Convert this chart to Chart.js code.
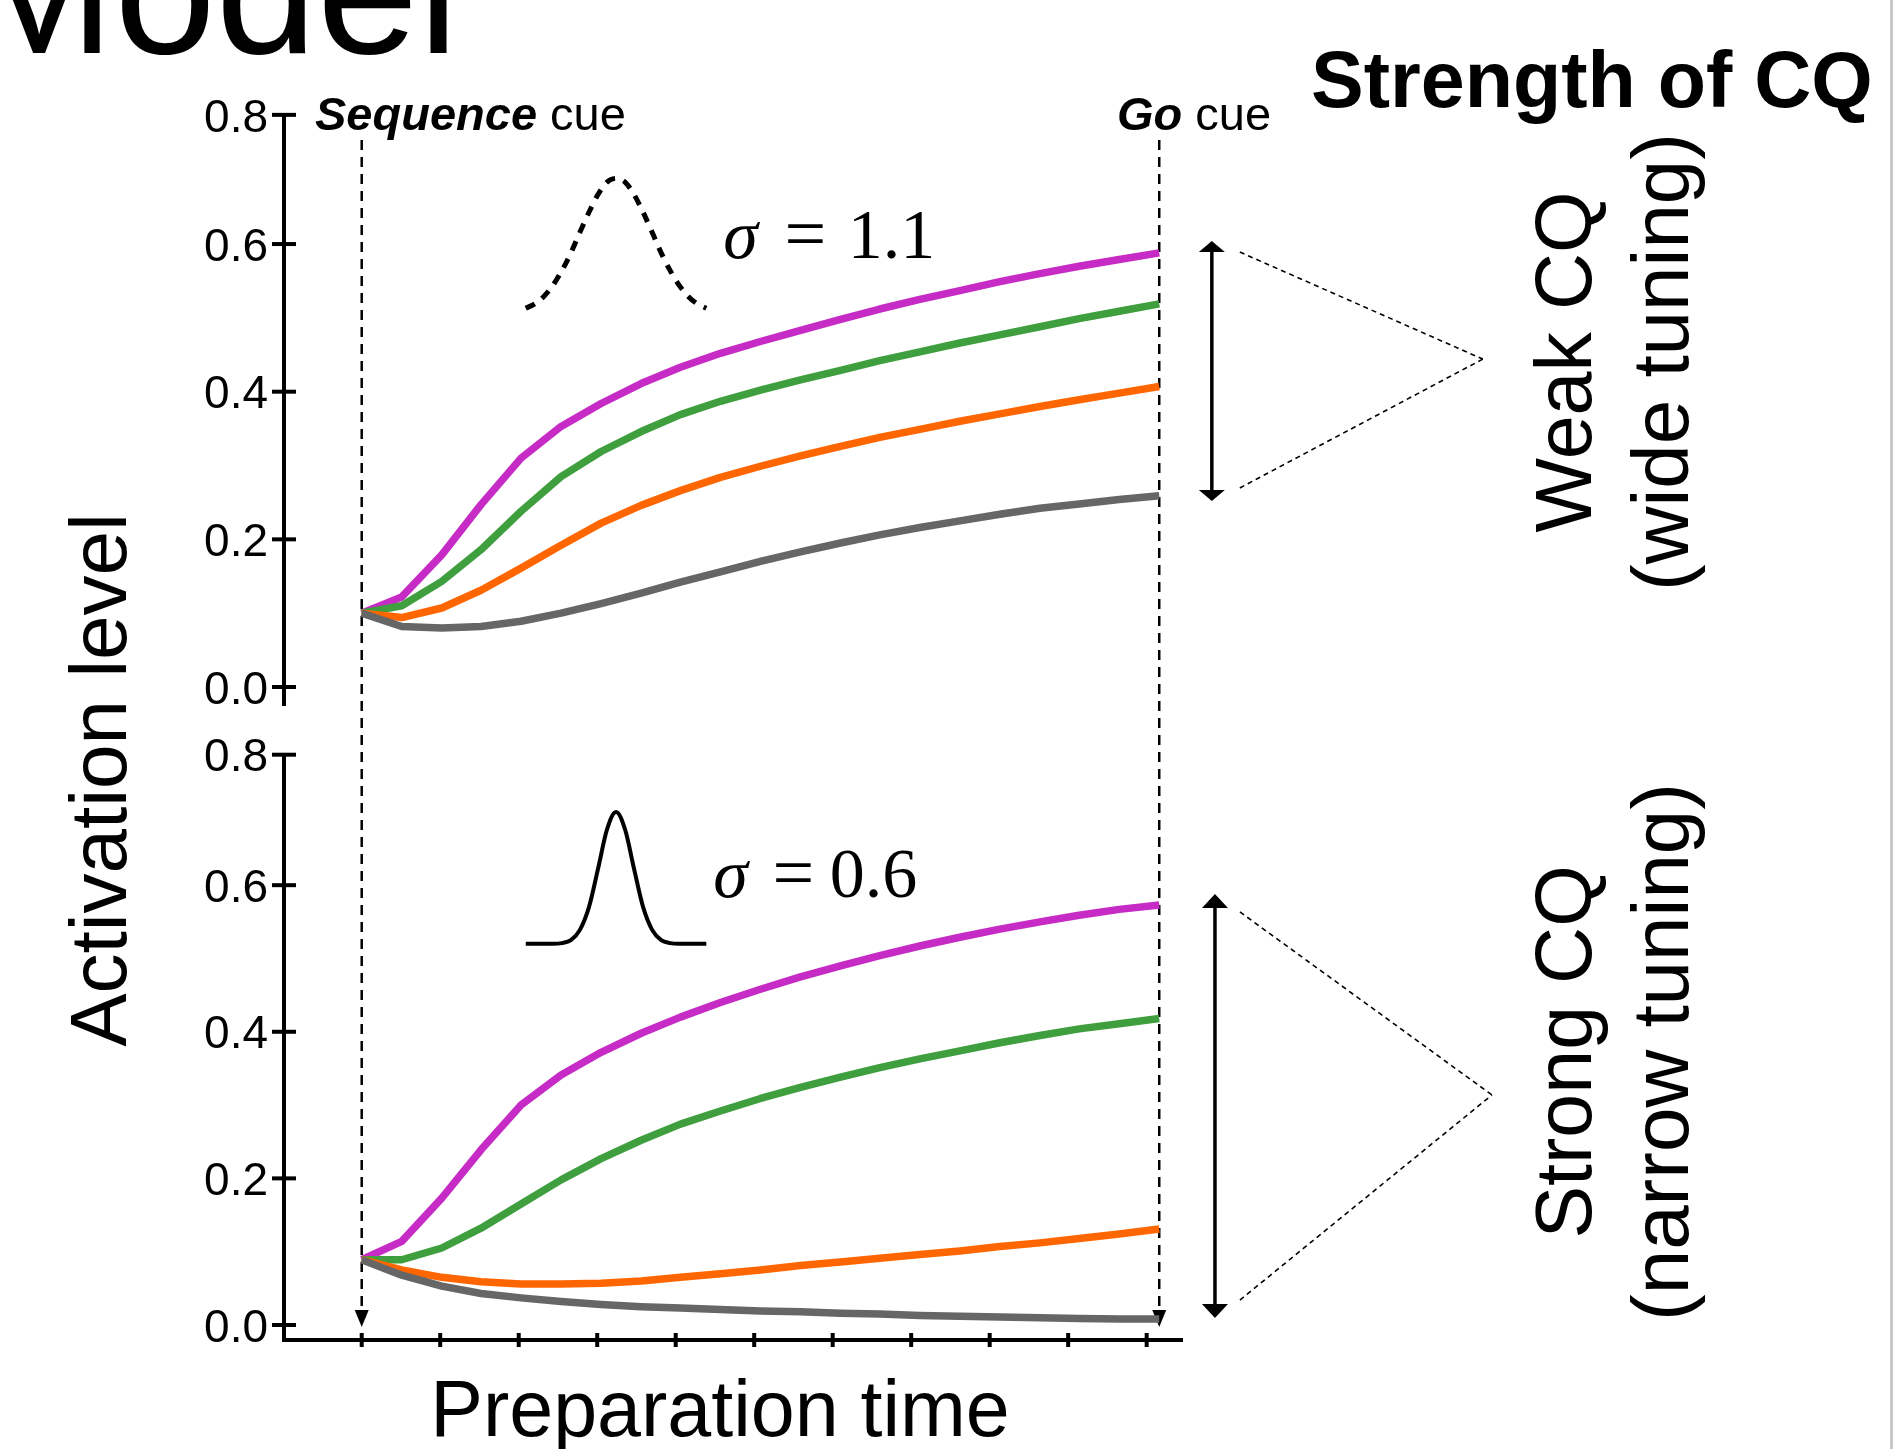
<!DOCTYPE html>
<html>
<head>
<meta charset="utf-8">
<script src="https://cdn.jsdelivr.net/npm/chart.js@4.4.1/dist/chart.umd.min.js"></script>
<style>
  html, body { margin: 0; padding: 0; background: #ffffff; }
  #wrap { position: relative; width: 1896px; height: 1449px; overflow: hidden; background: #ffffff; }
  #wrap canvas { position: absolute; left: 0; top: 0; }
</style>
</head>
<body>
<div id="wrap">
  <canvas id="bottomPanel" width="1896" height="1449"></canvas>
  <canvas id="topPanel" width="1896" height="1449"></canvas>
</div>
<script>
// ---------------- data ----------------
const prepTime = [0, 0.51, 1.02, 1.52, 2.03, 2.54, 3.05, 3.56, 4.06, 4.57, 5.08,
                  5.59, 6.10, 6.60, 7.11, 7.62, 8.13, 8.64, 9.14, 9.65, 10.16];

// Weak CQ (wide tuning, sigma = 1.1)
const weakMagenta = [0.100,0.122,0.179,0.247,0.310,0.353,0.384,0.411,0.433,0.452,0.468,0.483,0.498,0.512,0.525,0.537,0.549,0.560,0.570,0.579,0.588];
const weakGreen   = [0.100,0.110,0.143,0.186,0.238,0.285,0.319,0.346,0.369,0.387,0.402,0.416,0.429,0.442,0.454,0.466,0.477,0.488,0.499,0.509,0.519];
const weakOrange  = [0.100,0.094,0.107,0.131,0.161,0.192,0.222,0.246,0.266,0.284,0.299,0.313,0.326,0.338,0.349,0.360,0.370,0.380,0.389,0.398,0.407];
const weakGray    = [0.100,0.082,0.080,0.082,0.089,0.100,0.113,0.127,0.142,0.156,0.170,0.183,0.195,0.206,0.216,0.225,0.234,0.242,0.248,0.254,0.259];

// Strong CQ (narrow tuning, sigma = 0.6)
const strongMagenta = [0.089,0.114,0.173,0.239,0.300,0.341,0.372,0.398,0.420,0.440,0.458,0.475,0.490,0.504,0.517,0.529,0.540,0.550,0.559,0.567,0.573];
const strongGreen   = [0.089,0.089,0.105,0.132,0.165,0.198,0.227,0.252,0.274,0.292,0.309,0.324,0.338,0.351,0.363,0.374,0.385,0.395,0.404,0.411,0.418];
const strongOrange  = [0.089,0.075,0.065,0.059,0.056,0.056,0.057,0.060,0.065,0.070,0.075,0.081,0.086,0.091,0.096,0.101,0.107,0.112,0.118,0.124,0.131];
const strongGray    = [0.089,0.068,0.053,0.043,0.037,0.032,0.028,0.025,0.023,0.021,0.019,0.018,0.016,0.015,0.013,0.012,0.011,0.010,0.009,0.008,0.008];

// tuning-curve icons
const gaussX      = [2.09,2.205,2.32,2.435,2.55,2.665,2.78,2.895,3.01,3.125,3.24,3.355,3.47,3.585,3.70,3.815,3.93,4.045,4.16,4.275,4.39];
const wideGauss   = [0.513,0.519,0.529,0.544,0.564,0.588,0.616,0.643,0.667,0.684,0.689,0.684,0.667,0.643,0.616,0.588,0.564,0.544,0.529,0.519,0.513];
const narrowGauss = [0.520,0.520,0.520,0.520,0.521,0.525,0.539,0.570,0.622,0.676,0.700,0.676,0.622,0.570,0.539,0.525,0.521,0.520,0.520,0.520,0.520];

// ticks
const xTickValues = [0,1,2,3,4,5,6,7,8,9,10];
const yTickLabels = ['0.0','0.2','0.4','0.6','0.8'];
const yTickValuesTop = [0, 0.2, 0.4, 0.6, 0.775];
const yTickValuesBottom = [0, 0.2, 0.4, 0.6, 0.778];

const sequenceCueTime = 0;
const goCueTime = 10.16;

// ---------------- styles ----------------
const SANS = "'Liberation Sans', Arial, Helvetica, sans-serif";
const SERIF = "'Liberation Serif', 'Times New Roman', serif";
const COLORS = { magenta: '#C62BC6', green: '#3F9F3F', orange: '#FF6600', gray: '#666666' };

function pts(xs, ys) { return xs.map((x, i) => ({ x: x, y: ys[i] })); }

function curve(data, color) {
  return { data: pts(prepTime, data), borderColor: color, borderWidth: 7.5, pointRadius: 0,
           tension: 0, borderJoinStyle: 'round', fill: false, clip: false };
}

function yScale(min, max, tickVals) {
  return {
    type: 'linear', position: 'left', min: min, max: max,
    afterFit: s => { s.width = 120; },
    afterBuildTicks: s => { s.ticks = tickVals.map(v => ({ value: v })); },
    ticks: {
      autoSkip: false, color: '#000', padding: 16, labelOffset: 4,
      font: { family: SANS, size: 46 },
      callback: (v) => { const i = tickVals.indexOf(v); return i >= 0 ? yTickLabels[i] : ''; }
    },
    grid: { display: false, drawTicks: false },
    border: { display: true, color: '#000', width: 4 }
  };
}

function xScale(show) {
  return {
    type: 'linear', min: -0.99, max: 10.45, display: show,
    afterFit: s => { s.height = show ? 20 : 0; },
    ticks: { display: false },
    grid: { display: false, drawTicks: false },
    border: { display: show, color: '#000', width: 4 }
  };
}

function seg(ctx, x1, y1, x2, y2, w, dash) {
  ctx.save();
  ctx.beginPath();
  ctx.lineWidth = w;
  ctx.strokeStyle = '#000';
  ctx.setLineDash(dash || []);
  ctx.moveTo(x1, y1); ctx.lineTo(x2, y2);
  ctx.stroke();
  ctx.restore();
}
function head(ctx, x, tipY, dir, halfW, len) { // dir: +1 points down, -1 points up
  ctx.save();
  ctx.fillStyle = '#000';
  ctx.beginPath();
  ctx.moveTo(x, tipY);
  ctx.lineTo(x - halfW, tipY - dir * len);
  ctx.lineTo(x + halfW, tipY - dir * len);
  ctx.closePath();
  ctx.fill();
  ctx.restore();
}
function yTickMarks(chart) {
  const ctx = chart.ctx, ys = chart.scales.y, left = chart.chartArea.left;
  ys.ticks.forEach(t => {
    const p = ys.getPixelForValue(t.value);
    seg(ctx, left - 12, p, left + 12, p, 4);
  });
}
function rotText(ctx, text, x, y, font) {
  ctx.save();
  ctx.translate(x, y);
  ctx.rotate(-Math.PI / 2);
  ctx.font = font;
  ctx.textAlign = 'center';
  ctx.textBaseline = 'alphabetic';
  ctx.fillStyle = '#000';
  ctx.fillText(text, 0, 0);
  ctx.restore();
}
function sigmaLabel(ctx, left, base, eqCenter, numRight, num) {
  ctx.save();
  ctx.fillStyle = '#000';
  ctx.textBaseline = 'alphabetic';
  ctx.font = 'italic 70px ' + SERIF;
  ctx.textAlign = 'left';
  ctx.fillText('σ', left, base);
  ctx.font = '74px ' + SERIF;
  ctx.textAlign = 'center';
  ctx.fillText('=', eqCenter, base);
  ctx.font = '70px ' + SERIF;
  ctx.textAlign = 'right';
  ctx.fillText(num, numRight, base);
  ctx.restore();
}

// ---------------- top panel (weak CQ) ----------------
const topChart = new Chart(document.getElementById('topPanel'), {
  type: 'line',
  data: {
    datasets: [
      curve(weakGray, COLORS.gray),
      curve(weakOrange, COLORS.orange),
      curve(weakGreen, COLORS.green),
      curve(weakMagenta, COLORS.magenta),
      { data: pts(gaussX, wideGauss), borderColor: '#000', borderWidth: 5, borderDash: [10, 9],
        pointRadius: 0, cubicInterpolationMode: 'monotone', fill: false, clip: false }
    ]
  },
  options: {
    responsive: false, animation: false, devicePixelRatio: 1,
    layout: { padding: { left: 164, right: 714, top: 115, bottom: 744 } },
    plugins: { legend: { display: false }, tooltip: { enabled: false } },
    scales: { x: xScale(false), y: yScale(-0.0244, 0.7748, yTickValuesTop) }
  },
  plugins: [{
    id: 'topMarks',
    afterDraw(chart) {
      yTickMarks(chart);
      const ctx = chart.ctx, xs = chart.scales.x, ys = chart.scales.y;
      // sigma label
      const L = xs.getPixelForValue(gaussX[gaussX.length - 1]) + 17;
      sigmaLabel(ctx, L, ys.getPixelForValue(0.581), L + 82, L + 212, '1.1');
      // double arrow spanning final activation range
      const ax = xs.getPixelForValue(10.83);
      const t = ys.getPixelForValue(0.604), b = ys.getPixelForValue(0.252);
      seg(ctx, ax, t + 8, ax, b - 8, 3.5);
      head(ctx, ax, t, -1, 13, 11);
      head(ctx, ax, b, 1, 13, 11);
      // dotted bracket
      const sx = ax + 28, apx = ax + 271;
      seg(ctx, sx, t + 11, apx, t + 118, 1.6, [5, 4]);
      seg(ctx, sx, b - 13, apx, t + 118, 1.6, [5, 4]);
    }
  }]
});

// ---------------- bottom panel (strong CQ) ----------------
const bottomChart = new Chart(document.getElementById('bottomPanel'), {
  type: 'line',
  data: {
    datasets: [
      curve(strongGray, COLORS.gray),
      curve(strongOrange, COLORS.orange),
      curve(strongGreen, COLORS.green),
      curve(strongMagenta, COLORS.magenta),
      { data: pts(gaussX, narrowGauss), borderColor: '#000', borderWidth: 4,
        pointRadius: 0, cubicInterpolationMode: 'monotone', fill: false, clip: false }
    ]
  },
  options: {
    responsive: false, animation: false, devicePixelRatio: 1,
    layout: { padding: { left: 164, right: 714, top: 755, bottom: 89 } },
    plugins: { legend: { display: false }, tooltip: { enabled: false } },
    scales: { x: xScale(true), y: yScale(-0.0205, 0.7776, yTickValuesBottom) }
  },
  plugins: [{
    id: 'bottomMarks',
    beforeDatasetsDraw(chart) {
      const ctx = chart.ctx, xs = chart.scales.x, ys = chart.scales.y;
      const topY = topChart.scales.y.getPixelForValue(0.741);
      const tipY = ys.getPixelForValue(0) + 2;
      [sequenceCueTime, goCueTime].forEach(v => {
        const px = xs.getPixelForValue(v);
        seg(ctx, px, topY, px, tipY - 12, 2.5, [10, 7]);
        head(ctx, px, tipY, 1, 7, 17);
      });
    },
    afterDraw(chart) {
      const ctx = chart.ctx, xs = chart.scales.x, ys = chart.scales.y, area = chart.chartArea;
      yTickMarks(chart);
      xTickValues.forEach(v => {
        const px = xs.getPixelForValue(v);
        seg(ctx, px, area.bottom - 7, px, area.bottom + 7, 4);
      });
      // sigma label
      const L = xs.getPixelForValue(gaussX[gaussX.length - 1]) + 7;
      sigmaLabel(ctx, L, ys.getPixelForValue(0.584), L + 80, L + 204, '0.6');
      // double arrow
      const ax = xs.getPixelForValue(10.87);
      const t = ys.getPixelForValue(0.588), b = ys.getPixelForValue(0.0095);
      seg(ctx, ax, t + 10, ax, b - 10, 3.5);
      head(ctx, ax, t, -1, 13, 14);
      head(ctx, ax, b, 1, 13, 14);
      const sx = ax + 25, apx = ax + 277;
      seg(ctx, sx, t + 18, apx, t + 201, 1.6, [5, 4]);
      seg(ctx, sx, b - 18, apx, t + 201, 1.6, [5, 4]);

      // ----- texts -----
      ctx.save();
      ctx.fillStyle = '#000';
      ctx.textBaseline = 'alphabetic';
      ctx.textAlign = 'left';
      ctx.font = '182px ' + SANS;
      ctx.fillText('Model', -37, 53);

      ctx.font = 'bold 79px ' + SANS;
      ctx.fillText('Strength of CQ', 1311, 107);

      ctx.font = 'italic bold 47px ' + SANS;
      ctx.fillText('Sequence', 315, 130);
      let w = ctx.measureText('Sequence').width;
      ctx.font = '47px ' + SANS;
      ctx.fillText(' cue', 315 + w, 130);

      ctx.font = 'italic bold 47px ' + SANS;
      ctx.fillText('Go', 1117, 130);
      w = ctx.measureText('Go').width;
      ctx.font = '47px ' + SANS;
      ctx.fillText(' cue', 1117 + w, 130);

      ctx.font = '79px ' + SANS;
      ctx.textAlign = 'center';
      ctx.fillText('Preparation time', 720, 1436);
      ctx.restore();

      rotText(ctx, 'Activation level', 126, 780, '80px ' + SANS);
      rotText(ctx, 'Weak CQ', 1591, 362, '79px ' + SANS);
      rotText(ctx, '(wide tuning)', 1688, 362, '80px ' + SANS);
      rotText(ctx, 'Strong CQ', 1591, 1052, '79px ' + SANS);
      rotText(ctx, '(narrow tuning)', 1688, 1052, '80px ' + SANS);

      // faint frame edge at right
      ctx.save();
      ctx.strokeStyle = '#c8c8c8';
      ctx.lineWidth = 3;
      ctx.beginPath(); ctx.moveTo(1891.5, 0); ctx.lineTo(1891.5, 1449); ctx.stroke();
      ctx.restore();
    }
  }]
});
</script>
</body>
</html>
